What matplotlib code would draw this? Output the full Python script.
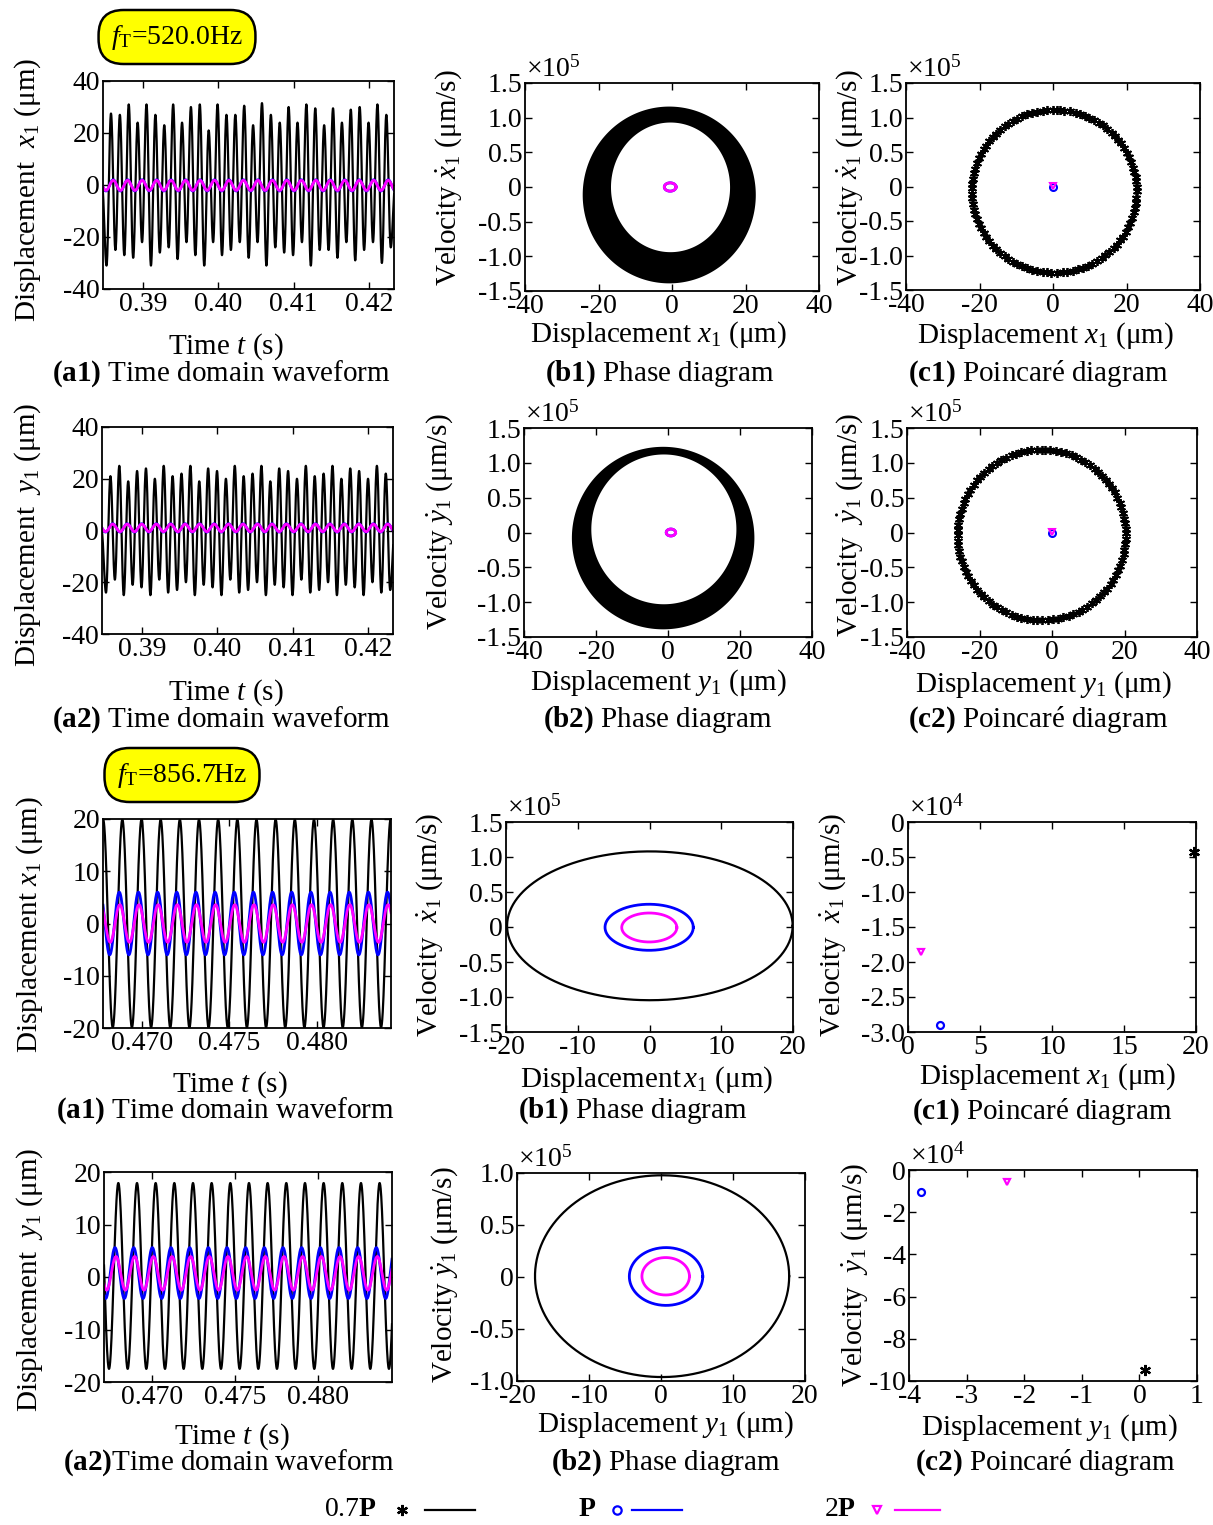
import numpy as np
import matplotlib
matplotlib.use("Agg")
import matplotlib.pyplot as plt
from matplotlib.lines import Line2D
from matplotlib.ticker import FuncFormatter

plt.rcParams["font.family"] = ["Liberation Serif", "DejaVu Serif"]
plt.rcParams["mathtext.fontset"] = "custom"
plt.rcParams["mathtext.rm"] = "Liberation Serif"
plt.rcParams["mathtext.it"] = "Liberation Serif:italic"
plt.rcParams["mathtext.bf"] = "Liberation Serif:bold"
plt.rcParams["axes.unicode_minus"] = False

# ---------------- data ----------------
# f_T = 520.0 Hz, black (0.7P) waveform: alternating trough / peak values
t_win_520 = [0.38467, 0.42333]
x1_t0, x1_half = 0.38514, 0.000590          # time of first trough, half period
x1_troughs = [-31, -25, -27, -28, -22, -31, -26, -24, -28.5, -22, -27, -31, -22, -27, -25, -22,
              -28, -22, -31, -24, -26, -27, -22, -31, -25, -25, -28, -22, -29, -25, -22, -30, -24]
x1_peaks = [27.5, 27, 31, 24, 31, 27, 23, 31, 24, 30, 31, 21, 31, 27, 27, 30.5,
            23, 31.5, 27, 24, 30, 24, 31, 29.5, 23, 29.5, 24, 29, 30, 24, 31, 27]
y1_t0, y1_half = 0.38520, 0.000590
y1_troughs = [-24, -19, -25, -21, -22, -25, -19, -24, -23, -20, -25, -21, -22, -25, -19, -24,
              -23, -20, -25, -21, -22, -25, -19, -24, -23, -20, -25, -21, -22, -25, -20, -24, -23]
y1_peaks = [21, 25, 19, 23, 24, 20, 25, 21, 22, 25, 19, 24, 23, 20, 25, 21,
            22, 25, 19, 24, 23, 20, 25, 21, 22, 25, 20, 24, 23, 20, 25, 22]
# small P / 2P responses at 520 Hz: offset, amplitude, frequency, time of a peak
x1_P_520 = [-0.15, 2.15, 520.0, 0.38602]
x1_2P_520 = [-0.15, 1.95, 520.0, 0.38602]
y1_P_520 = [1.0, 1.6, 520.0, 0.38610]
y1_2P_520 = [1.0, 1.45, 520.0, 0.38610]

# phase rings (black band): centre x, radius x, centre v, radius v  (v in 1e5 um/s)
ring_x1_outer = [-0.75, 23.55, -0.115, 1.275]
ring_x1_inner = [-0.40, 16.20, -0.005, 0.935]
ring_y1_outer = [-1.35, 25.35, -0.08, 1.31]
ring_y1_inner = [-1.15, 20.15, 0.045, 1.075]
loop_x1_520 = [-0.5, 1.6, 0.0, 0.06]
loop_y1_520 = [0.8, 1.3, 0.0, 0.05]

# Poincare points at 520 Hz (ring parameters, angles of points in degrees)
pc_x1_ring = [0.35, 22.45, -0.07, 1.18]
pc_y1_ring = [-2.85, 23.2, -0.035, 1.225]
pc_x1_ang = [0, 3, 7, 10, 14, 17, 21, 25, 28, 32, 36, 39, 43, 46, 50, 54, 57, 61, 65, 68, 72, 75,
             79, 83, 86, 88, 91, 95, 98, 102, 106, 109, 113, 117, 120, 124, 127, 131, 135, 138,
             142, 146, 149, 153, 156, 160, 164, 167, 171, 175, 178, 182, 185, 189, 193, 196, 200,
             204, 207, 211, 214, 218, 222, 225, 229, 233, 236, 240, 243, 247, 251, 254, 258, 262,
             265, 268, 272, 276, 279, 283, 287, 290, 294, 297, 301, 305, 308, 312, 316, 319, 323,
             326, 330, 334, 337, 341, 345, 348, 352, 355]
pc_y1_ang = [1, 4, 8, 11, 15, 19, 22, 26, 30, 33, 37, 40, 44, 48, 51, 55, 59, 62, 66, 69, 73, 77,
             80, 84, 88, 90, 93, 97, 100, 104, 108, 111, 115, 119, 122, 126, 129, 133, 137, 140,
             144, 148, 151, 155, 158, 162, 166, 169, 173, 177, 180, 184, 187, 191, 195, 198, 202,
             206, 209, 213, 216, 220, 224, 227, 231, 235, 238, 242, 245, 249, 253, 256, 260, 264,
             267, 270, 274, 278, 281, 285, 289, 292, 296, 299, 303, 307, 310, 314, 318, 321, 325,
             328, 332, 336, 339, 343, 347, 350, 354, 357]

# f_T = 856.7 Hz, periodic responses: offset, amplitude, frequency, time of a peak
t_win_857_x = [0.46779, 0.48425]
t_win_857_y = [0.46714, 0.48442]
x1_07P = [0.0, 19.9, 913.0, 0.46780]
x1_P = [0.0, 6.0, 913.0, 0.46872]
x1_2P = [0.0, 3.6, 913.0, 0.46875]
y1_07P = [0.2, 17.7, 893.0, 0.46800]
y1_P = [0.75, 4.85, 893.0, 0.46780]
y1_2P = [0.7, 3.2, 893.0, 0.46786]
# phase ellipses: centre x, radius x, centre v, radius v (1e5 um/s)
ell_x1 = {"0.7P": [0.05, 19.9, 0.017, 1.063], "P": [-0.05, 6.15, -0.004, 0.329], "2P": [-0.03, 3.84, -0.007, 0.207]}
ell_y1 = {"0.7P": [0.15, 17.65, 0.008, 0.97], "P": [0.7, 5.1, 0.005, 0.278], "2P": [0.65, 3.3, 0.007, 0.18]}
# Poincare points (x, v in 1e4 um/s)
pc_x1_857 = {"0.7P": (19.84, -0.43), "P": (2.2, -2.9), "2P": (0.9, -1.85)}
pc_y1_857 = {"0.7P": (0.09, -9.49), "P": (-3.8, -1.06), "2P": (-2.3, -0.55)}

# ---------------- figure ----------------
W, H = 1213, 1525
FS = 20
fig = plt.figure(figsize=(W / 100, H / 100), dpi=100)
colors = {"0.7P": "black", "P": "blue", "2P": "magenta"}
star = (6, 2, 0)


def box(l, t, r, b):
    ax = fig.add_axes([l / W, 1 - b / H, (r - l) / W, (b - t) / H])
    ax.tick_params(direction="in", top=True, right=True, length=5, width=1,
                   labelsize=FS, pad=2)
    for s in ax.spines.values():
        s.set_linewidth(1.3)
    return ax


def ftext(x, y, s, **kw):
    kw.setdefault("fontsize", FS + 1)
    kw.setdefault("ha", "center")
    kw.setdefault("va", "center")
    fig.text(x / W, 1 - y / H, s, **kw)


def fmt1(v, pos):
    return "0" if abs(v) < 1e-9 else "%.1f" % v


def extrema_curve(t0, half, troughs, peaks, n=24):
    vals = [0.0]
    for k in range(len(troughs)):
        vals.append(troughs[k])
        if k < len(peaks):
            vals.append(peaks[k])
    vals.append(0.0)
    ts, xs = [], []
    s = np.linspace(0, 1, n, endpoint=False)
    for k in range(len(vals) - 1):
        a, b = vals[k], vals[k + 1]
        ts.append(t0 - half + (k + s) * half)
        xs.append((a + b) / 2 + (a - b) / 2 * np.cos(np.pi * s))
    return np.concatenate(ts), np.concatenate(xs)


def sine(t, p):
    off, amp, f, tp = p
    return off + amp * np.cos(2 * np.pi * f * (t - tp))


def ellipse(p, n=400):
    th = np.linspace(0, 2 * np.pi, n)
    return p[0] + p[1] * np.cos(th), p[2] + p[3] * np.sin(th)


def time_panel(ax, win, ticks, fmt, ylim, yticks):
    ax.set_xlim(win)
    ax.set_ylim(ylim)
    ax.set_xticks(ticks)
    ax.xaxis.set_major_formatter(FuncFormatter(lambda v, p: fmt % v))
    ax.set_yticks(yticks)


def exponent(ax, s):
    ax.text(0.005, 1.0, s, transform=ax.transAxes, ha="left", va="bottom", fontsize=FS)


def ring_panel(ax, outer, inner, loop, lbl):
    xo, vo = ellipse(outer)
    xi, vi = ellipse(inner)
    ax.fill(xo, vo, color="black", lw=0)
    ax.fill(xi, vi, color="white", lw=0)
    xl, vl = ellipse(loop)
    ax.plot(xl, vl, color="blue", lw=2)
    ax.plot(xl, vl, color="magenta", lw=2)
    ax.set_xlim(-40, 40)
    ax.set_ylim(-1.5, 1.5)
    ax.set_xticks([-40, -20, 0, 20, 40])
    ax.set_yticks([-1.5, -1.0, -0.5, 0, 0.5, 1.0, 1.5])
    ax.yaxis.set_major_formatter(FuncFormatter(fmt1))
    exponent(ax, r"$\times10^5$")


def poincare_ring(ax, ring, ang):
    a = np.radians(ang)
    ax.plot(ring[0] + ring[1] * np.cos(a), ring[2] + ring[3] * np.sin(a), ls="none",
            marker=star, ms=6.5, mew=1.3, color="black")
    ax.plot([0], [0], ls="none", marker="o", ms=5, mfc="none", mec="blue", mew=1.5)
    ax.plot([0], [0.01], ls="none", marker="v", ms=5, mfc="none", mec="magenta", mew=1.5)
    ax.set_xlim(-40, 40)
    ax.set_ylim(-1.5, 1.5)
    ax.set_xticks([-40, -20, 0, 20, 40])
    ax.set_yticks([-1.5, -1.0, -0.5, 0, 0.5, 1.0, 1.5])
    ax.yaxis.set_major_formatter(FuncFormatter(fmt1))
    exponent(ax, r"$\times10^5$")


# ---- f_T = 520.0 Hz, row 1 (x1) ----
ax = box(103, 81, 394, 289)
t, x = extrema_curve(x1_t0, x1_half, x1_troughs, x1_peaks)
ax.plot(t, x, color="black", lw=1.6)
tt = np.linspace(*t_win_520, 1500)
ax.plot(tt, sine(tt, x1_P_520), color="blue", lw=2)
ax.plot(tt, sine(tt, x1_2P_520), color="magenta", lw=2)
time_panel(ax, t_win_520, [0.39, 0.40, 0.41, 0.42], "%.2f", (-40, 40), [-40, -20, 0, 20, 40])
ftext(28, 190, r"Displacement  $x_1$ (μm)", rotation=90)
ftext(226, 347, r"Time $t$ (s)")
ftext(221, 374, r"$\mathbf{(a1)}$ Time domain waveform")

ax = box(525, 83, 819, 291)
ring_panel(ax, ring_x1_outer, ring_x1_inner, loop_x1_520, "x")
ftext(449, 178, r"Velocity $\dot{x}_1$ (μm/s)", rotation=90)
ftext(658, 335, r"Displacement $x_1$ (μm)")
ftext(660, 374, r"$\mathbf{(b1)}$ Phase diagram")

ax = box(906, 83, 1200, 290)
poincare_ring(ax, pc_x1_ring, pc_x1_ang)
ftext(850, 178, r"Velocity $\dot{x}_1$ (μm/s)", rotation=90)
ftext(1045, 336, r"Displacement $x_1$ (μm)")
ftext(1038, 374, r"$\mathbf{(c1)}$ Poincaré diagram")

# ---- row 2 (y1) ----
ax = box(102, 427, 393, 634)
t, y = extrema_curve(y1_t0, y1_half, y1_troughs, y1_peaks)
ax.plot(t, y, color="black", lw=1.6)
ax.plot(tt, sine(tt, y1_P_520), color="blue", lw=2)
ax.plot(tt, sine(tt, y1_2P_520), color="magenta", lw=2)
time_panel(ax, t_win_520, [0.39, 0.40, 0.41, 0.42], "%.2f", (-40, 40), [-40, -20, 0, 20, 40])
ftext(28, 535, r"Displacement  $y_1$ (μm)", rotation=90)
ftext(226, 693, r"Time $t$ (s)")
ftext(221, 720, r"$\mathbf{(a2)}$ Time domain waveform")

ax = box(524, 428, 812, 637)
ring_panel(ax, ring_y1_outer, ring_y1_inner, loop_y1_520, "y")
ftext(440, 522, r"Velocity $\dot{y}_1$ (μm/s)", rotation=90)
ftext(658, 683, r"Displacement $y_1$ (μm)")
ftext(658, 720, r"$\mathbf{(b2)}$ Phase diagram")

ax = box(907, 428, 1197, 637)
poincare_ring(ax, pc_y1_ring, pc_y1_ang)
ftext(850, 525, r"Velocity  $\dot{y}_1$ (μm/s)", rotation=90)
ftext(1043, 685, r"Displacement $y_1$ (μm)")
ftext(1038, 720, r"$\mathbf{(c2)}$ Poincaré diagram")

# ---- f_T = 856.7 Hz, row 3 (x1) ----
ax = box(103, 819, 391, 1028)
tt = np.linspace(*t_win_857_x, 1500)
for p, c in [(x1_07P, "black"), (x1_P, "blue"), (x1_2P, "magenta")]:
    ax.plot(tt, sine(tt, p), color=c, lw=1.6 if c == "black" else 2)
time_panel(ax, t_win_857_x, [0.470, 0.475, 0.480], "%.3f", (-20, 20), [-20, -10, 0, 10, 20])
ftext(30, 925, r"Displacement $x_1$ (μm)", rotation=90)
ftext(230, 1085, r"Time $t$ (s)")
ftext(225, 1111, r"$\mathbf{(a1)}$ Time domain waveform")

ax = box(506, 822, 793, 1032)
for k in ["0.7P", "P", "2P"]:
    ax.plot(*ellipse(ell_x1[k]), color=colors[k], lw=1.6 if k == "0.7P" else 2)
ax.set_xlim(-20, 20)
ax.set_ylim(-1.5, 1.5)
ax.set_xticks([-20, -10, 0, 10, 20])
ax.set_yticks([-1.5, -1.0, -0.5, 0, 0.5, 1.0, 1.5])
ax.yaxis.set_major_formatter(FuncFormatter(fmt1))
exponent(ax, r"$\times10^5$")
ftext(430, 925, r"Velocity  $\dot{x}_1$ (μm/s)", rotation=90)
ftext(647, 1080, r"Displacement$\,x_1$ (μm)")
ftext(633, 1111, r"$\mathbf{(b1)}$ Phase diagram")

ax = box(908, 822, 1196, 1032)
mk = {"0.7P": star, "P": "o", "2P": "v"}
for k in ["0.7P", "P", "2P"]:
    px, pv = pc_x1_857[k]
    ax.plot([px], [pv], ls="none", marker=mk[k], ms=8 if k == "0.7P" else 5,
            mfc="none", mec=colors[k], mew=1.6, clip_on=False)
ax.set_xlim(0, 20)
ax.set_ylim(-3, 0)
ax.set_xticks([0, 5, 10, 15, 20])
ax.set_yticks([-3, -2.5, -2, -1.5, -1, -0.5, 0])
ax.yaxis.set_major_formatter(FuncFormatter(fmt1))
exponent(ax, r"$\times10^4$")
ftext(833, 925, r"Velocity  $\dot{x}_1$ (μm/s)", rotation=90)
ftext(1047, 1077, r"Displacement $x_1$ (μm)")
ftext(1042, 1112, r"$\mathbf{(c1)}$ Poincaré diagram")

# ---- row 4 (y1) ----
ax = box(104, 1172, 392, 1382)
tt = np.linspace(*t_win_857_y, 1500)
for p, c in [(y1_07P, "black"), (y1_P, "blue"), (y1_2P, "magenta")]:
    ax.plot(tt, sine(tt, p), color=c, lw=1.6 if c == "black" else 2)
time_panel(ax, t_win_857_y, [0.470, 0.475, 0.480], "%.3f", (-20, 20), [-20, -10, 0, 10, 20])
ftext(30, 1280, r"Displacement  $y_1$ (μm)", rotation=90)
ftext(232, 1437, r"Time $t$ (s)")
ftext(229, 1463, r"$\mathbf{(a2)}$Time domain waveform")

ax = box(517, 1173, 805, 1381)
for k in ["0.7P", "P", "2P"]:
    ax.plot(*ellipse(ell_y1[k]), color=colors[k], lw=1.6 if k == "0.7P" else 2)
ax.set_xlim(-20, 20)
ax.set_ylim(-1, 1)
ax.set_xticks([-20, -10, 0, 10, 20])
ax.set_yticks([-1.0, -0.5, 0, 0.5, 1.0])
ax.yaxis.set_major_formatter(FuncFormatter(fmt1))
exponent(ax, r"$\times10^5$")
ftext(445, 1275, r"Velocity $\dot{y}_1$ (μm/s)", rotation=90)
ftext(665, 1425, r"Displacement $y_1$ (μm)")
ftext(666, 1463, r"$\mathbf{(b2)}$ Phase diagram")

ax = box(909, 1170, 1197, 1381)
for k in ["0.7P", "P", "2P"]:
    px, pv = pc_y1_857[k]
    ax.plot([px], [pv], ls="none", marker=mk[k], ms=8 if k == "0.7P" else 5,
            mfc="none", mec=colors[k], mew=1.6, clip_on=False)
ax.set_xlim(-4, 1)
ax.set_ylim(-10, 0)
ax.set_xticks([-4, -3, -2, -1, 0, 1])
ax.set_yticks([-10, -8, -6, -4, -2, 0])
exponent(ax, r"$\times10^4$")
ftext(855, 1275, r"Velocity  $\dot{y}_1$ (μm/s)", rotation=90)
ftext(1049, 1428, r"Displacement $y_1$ (μm)")
ftext(1045, 1463, r"$\mathbf{(c2)}$ Poincaré diagram")

# ---- frequency tags ----
tag = dict(boxstyle="round,pad=0.45,rounding_size=0.9", fc="yellow", ec="black", lw=1.8)
ftext(177, 37, r"$f_{\mathrm{T}}$=520.0Hz", fontsize=FS, bbox=tag)
ftext(182, 775, r"$f_{\mathrm{T}}$=856.7Hz", fontsize=FS, bbox=tag)

# ---- legend ----
ly = 1 - 1510 / H
for name, tx, mx, lx in [("0.7", 350, 402, (425, 475)), ("", 587, 617, (632, 682)),
                         ("2", 840, 877, (895, 940))]:
    k = name + "P"
    ftext(tx, 1510, name + r"$\mathbf{P}$", fontsize=FS)
    fig.add_artist(Line2D([mx / W], [ly], transform=fig.transFigure, marker=mk[k],
                          ms=8 if k == "0.7P" else 6, mfc="none", mec=colors[k], mew=1.6))
    fig.add_artist(Line2D([lx[0] / W, lx[1] / W], [ly, ly], transform=fig.transFigure,
                          color=colors[k], lw=1.6))

fig.savefig("out.png", dpi=100)
